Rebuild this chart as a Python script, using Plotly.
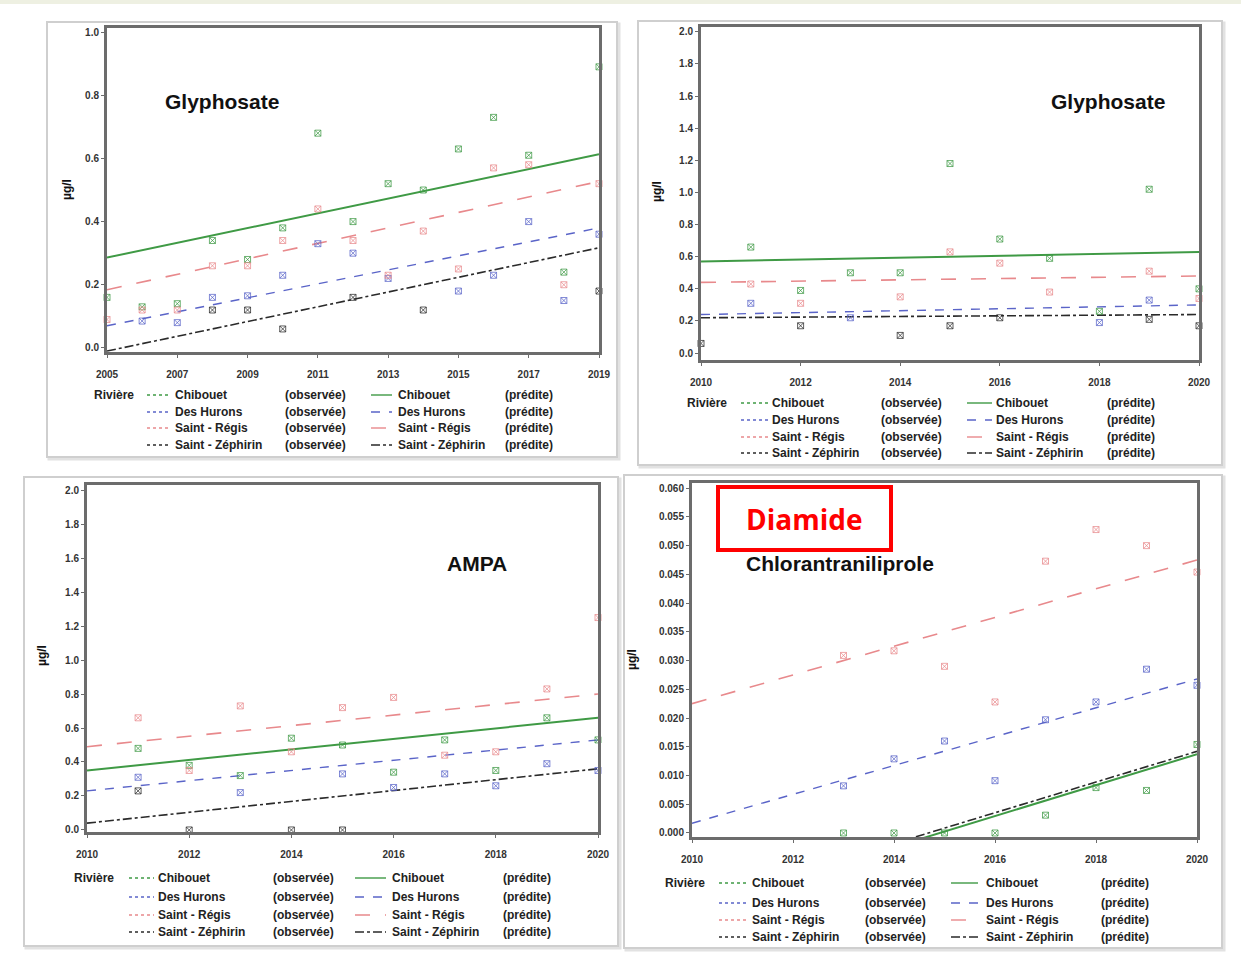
import plotly.graph_objects as go

W, H = 1241, 958

RIVERS = ["Chibouet", "Des Hurons", "Saint - Régis", "Saint - Zéphirin"]
LEGEND_LABEL = "Rivière"
OBS_TAG = "(observée)"
PRED_TAG = "(prédite)"
Y_TITLE = "µg/l"

# ---------------- Panel 1 : Glyphosate 2005-2019 ----------------
p1_title = "Glyphosate"
p1_years = list(range(2005, 2020))
p1_chibouet = [0.16, 0.13, 0.14, 0.34, 0.28, 0.38, 0.68, 0.40, 0.52, 0.50, 0.63, 0.73, 0.61, 0.24, 0.89]
p1_hurons = [None, 0.085, 0.08, 0.16, 0.165, 0.23, 0.33, 0.30, 0.22, None, 0.18, 0.23, 0.40, 0.15, 0.36]
p1_regis = [0.09, 0.12, 0.12, 0.26, 0.26, 0.34, 0.44, 0.34, 0.23, 0.37, 0.25, 0.57, 0.58, 0.20, 0.52]
p1_zephirin = [None, None, None, 0.12, 0.12, 0.06, None, 0.16, None, 0.12, None, None, None, None, 0.18]
p1_pred_years = [2005, 2019]
p1_pred_chibouet = [0.286, 0.613]
p1_pred_hurons = [0.07, 0.38]
p1_pred_regis = [0.184, 0.527]
p1_pred_zephirin = [-0.01, 0.317]
p1_xticks = [2005, 2007, 2009, 2011, 2013, 2015, 2017, 2019]
p1_yticks = [0.0, 0.2, 0.4, 0.6, 0.8, 1.0]

# ---------------- Panel 2 : Glyphosate 2010-2020 ----------------
p2_title = "Glyphosate"
p2_years = list(range(2010, 2021))
p2_chibouet = [None, 0.66, 0.39, 0.50, 0.50, 1.18, 0.71, 0.59, 0.26, 1.02, 0.40]
p2_hurons = [None, 0.31, None, 0.22, None, None, None, None, 0.19, 0.33, None]
p2_regis = [None, 0.43, 0.31, None, 0.35, 0.63, 0.56, 0.38, None, 0.51, 0.34]
p2_zephirin = [0.06, None, 0.17, None, 0.11, 0.17, 0.22, None, None, 0.21, 0.17]
p2_pred_years = [2010, 2020]
p2_pred_chibouet = [0.57, 0.63]
p2_pred_hurons = [0.24, 0.30]
p2_pred_regis = [0.44, 0.48]
p2_pred_zephirin = [0.22, 0.24]
p2_xticks = [2010, 2012, 2014, 2016, 2018, 2020]
p2_yticks = [0.0, 0.2, 0.4, 0.6, 0.8, 1.0, 1.2, 1.4, 1.6, 1.8, 2.0]

# ---------------- Panel 3 : AMPA 2010-2020 ----------------
p3_title = "AMPA"
p3_years = list(range(2011, 2021))
p3_chibouet = [0.48, 0.38, 0.32, 0.54, 0.50, 0.34, 0.53, 0.35, 0.66, 0.53]
p3_hurons = [0.31, None, 0.22, None, 0.33, 0.25, 0.33, 0.26, 0.39, 0.35]
p3_regis = [0.66, 0.35, 0.73, 0.46, 0.72, 0.78, 0.44, 0.46, 0.83, 1.25]
p3_zephirin = [0.23, 0.0, None, 0.0, 0.0, None, None, None, None, None]
p3_pred_years = [2010, 2020]
p3_pred_chibouet = [0.35, 0.66]
p3_pred_hurons = [0.23, 0.53]
p3_pred_regis = [0.49, 0.80]
p3_pred_zephirin = [0.04, 0.36]
p3_xticks = [2010, 2012, 2014, 2016, 2018, 2020]
p3_yticks = [0.0, 0.2, 0.4, 0.6, 0.8, 1.0, 1.2, 1.4, 1.6, 1.8, 2.0]

# ---------------- Panel 4 : Chlorantraniliprole 2010-2020 ----------------
p4_title = "Chlorantraniliprole"
p4_badge = "Diamide"
p4_years = list(range(2013, 2021))
p4_chibouet = [0.000, 0.000, 0.000, 0.000, 0.0031, 0.0079, 0.0074, 0.0154]
p4_hurons = [0.0082, 0.0129, 0.0160, 0.0091, 0.0197, 0.0228, 0.0285, 0.0257]
p4_regis = [0.0309, 0.0317, 0.0290, 0.0228, 0.0473, 0.0528, 0.0500, 0.0454]
p4_zephirin = [None] * 8
p4_pred_years = [2010, 2020]
p4_pred_chibouet = [-0.0132, 0.0137]
p4_pred_hurons = [0.0017, 0.0268]
p4_pred_regis = [0.0225, 0.0475]
p4_pred_zephirin = [-0.0125, 0.0142]
p4_xticks = [2010, 2012, 2014, 2016, 2018, 2020]
p4_yticks = [0.000, 0.005, 0.010, 0.015, 0.020, 0.025, 0.030, 0.035, 0.040, 0.045, 0.050, 0.055, 0.060]

# ---------------- styles ----------------
COL = ["#3f9a45", "#5a64c8", "#e8898c", "#2a2a2a"]
PRED_DASH = ["solid", "dash", "longdash", "dashdot"]
PRED_W = [2.0, 1.4, 1.6, 1.6]
FONT = "Liberation Sans"


def px(x):
    return x / W


def py(y):
    return 1 - y / H


panels = [
    dict(title=p1_title, years=p1_years,
         obs=[p1_chibouet, p1_hurons, p1_regis, p1_zephirin],
         pyears=p1_pred_years,
         pred=[p1_pred_chibouet, p1_pred_hurons, p1_pred_regis, p1_pred_zephirin],
         xticks=p1_xticks, yticks=p1_yticks, fmt=".1f",
         plot=(107, 28, 599, 352), xr=[2005, 2019], yr=[-0.013, 1.013],
         box=(47, 22, 617, 457), title_xy=(222, 101), ytitle_xy=(67, 190),
         leg=dict(label=(92, 395), s1=(147, 171), n1=173, o1=283, s2=(371, 392), n2=396, o2=503,
                  rows=[395, 412, 428, 445])),
    dict(title=p2_title, years=p2_years,
         obs=[p2_chibouet, p2_hurons, p2_regis, p2_zephirin],
         pyears=p2_pred_years,
         pred=[p2_pred_chibouet, p2_pred_hurons, p2_pred_regis, p2_pred_zephirin],
         xticks=p2_xticks, yticks=p2_yticks, fmt=".1f",
         plot=(701, 27, 1199, 360), xr=[2010, 2020], yr=[-0.043, 2.03],
         box=(638, 21, 1222, 465), title_xy=(1108, 101), ytitle_xy=(657, 192),
         leg=dict(label=(685, 403), s1=(741, 768), n1=770, o1=879, s2=(967, 992), n2=994, o2=1105,
                  rows=[403, 420, 437, 453])),
    dict(title=p3_title, years=p3_years,
         obs=[p3_chibouet, p3_hurons, p3_regis, p3_zephirin],
         pyears=p3_pred_years,
         pred=[p3_pred_chibouet, p3_pred_hurons, p3_pred_regis, p3_pred_zephirin],
         xticks=p3_xticks, yticks=p3_yticks, fmt=".1f",
         plot=(87, 485, 598, 832), xr=[2010, 2020], yr=[-0.012, 2.03],
         box=(24, 477, 618, 946), title_xy=(477, 563), ytitle_xy=(42, 656),
         leg=dict(label=(72, 878), s1=(129, 154), n1=156, o1=271, s2=(355, 386), n2=390, o2=501,
                  rows=[878, 897, 915, 932])),
    dict(title=p4_title, years=p4_years,
         obs=[p4_chibouet, p4_hurons, p4_regis, p4_zephirin],
         pyears=p4_pred_years,
         pred=[p4_pred_chibouet, p4_pred_hurons, p4_pred_regis, p4_pred_zephirin],
         xticks=p4_xticks, yticks=p4_yticks, fmt=".3f",
         plot=(692, 483, 1197, 837), xr=[2010, 2020], yr=[-0.0007, 0.0609],
         box=(624, 475, 1222, 948), title_xy=(840, 563), ytitle_xy=(632, 660),
         leg=dict(label=(663, 883), s1=(719, 748), n1=750, o1=863, s2=(951, 978), n2=984, o2=1099,
                  rows=[883, 903, 920, 937])),
]

fig = go.Figure()
shapes = []
annotations = []

# faint strip at top of the page
shapes.append(dict(type="rect", xref="paper", yref="paper", x0=0, x1=1, y0=py(4), y1=1,
                   line=dict(width=0), fillcolor="#eef0e2", layer="below"))

for i, p in enumerate(panels):
    k = "" if i == 0 else str(i + 1)
    xa, ya = "x" + k, "y" + k
    x0, y0, x1, y1 = p["plot"]
    # outer panel box
    bx0, by0, bx1, by1 = p["box"]
    shapes.append(dict(type="rect", xref="paper", yref="paper",
                       x0=px(bx0 + 2), x1=px(bx1 + 2), y0=py(by1 + 2), y1=py(by0 + 2),
                       line=dict(color="#e2e2e2", width=3), fillcolor="rgba(0,0,0,0)", layer="below"))
    shapes.append(dict(type="rect", xref="paper", yref="paper",
                       x0=px(bx0), x1=px(bx1), y0=py(by1), y1=py(by0),
                       line=dict(color="#cfcfcf", width=2), fillcolor="white", layer="below"))

    axis_common = dict(showgrid=False, zeroline=False, showline=True, mirror=True,
                       linecolor="#6c6c6c", linewidth=3, ticks="outside", ticklen=3,
                       tickcolor="#6c6c6c", automargin=False,
                       tickfont=dict(family=FONT, size=10, color="#333", weight="bold"))
    fig.update_layout({
        "xaxis" + k: dict(domain=[px(x0), px(x1)], range=p["xr"], anchor=ya,
                          tickvals=p["xticks"], ticktext=[str(t) for t in p["xticks"]],
                          ticklabelstandoff=8, **axis_common),
        "yaxis" + k: dict(domain=[py(y1), py(y0)], range=p["yr"], anchor=xa,
                          tickvals=p["yticks"], tickformat=p["fmt"], **axis_common),
    })

    # predicted trend lines
    for r in range(4):
        fig.add_trace(go.Scatter(x=p["pyears"], y=p["pred"][r], mode="lines", xaxis=xa, yaxis=ya,
                                 line=dict(color=COL[r], width=PRED_W[r], dash=PRED_DASH[r]),
                                 showlegend=False, hoverinfo="skip"))
    # observed points
    for r in range(4):
        fig.add_trace(go.Scatter(x=p["years"], y=p["obs"][r], mode="markers", xaxis=xa, yaxis=ya,
                                 marker=dict(symbol="square-x-open", size=6, color=COL[r],
                                             opacity=0.75, line=dict(width=1, color=COL[r])),
                                 cliponaxis=False, showlegend=False))

    tx, ty = p["title_xy"]
    annotations.append(dict(xref="paper", yref="paper", x=px(tx), y=py(ty), text=p["title"],
                            showarrow=False, xanchor="center", yanchor="middle",
                            font=dict(family=FONT, size=21, color="#111", weight="bold")))
    yx, yy = p["ytitle_xy"]
    annotations.append(dict(xref="paper", yref="paper", x=px(yx), y=py(yy), text=Y_TITLE,
                            showarrow=False, textangle=-90, xanchor="center", yanchor="middle",
                            font=dict(family=FONT, size=12, color="#111", weight="bold")))

    # legend block
    L = p["leg"]
    lf = dict(family=FONT, size=12, color="#222", weight="bold")
    annotations.append(dict(xref="paper", yref="paper", x=px(L["label"][0]), y=py(L["label"][1]),
                            text=LEGEND_LABEL, showarrow=False, xanchor="left", yanchor="middle",
                            font=lf))
    for r, ry in enumerate(L["rows"]):
        shapes.append(dict(type="line", xref="paper", yref="paper",
                           x0=px(L["s1"][0]), x1=px(L["s1"][1]), y0=py(ry), y1=py(ry),
                           line=dict(color=COL[r], width=1.6, dash="dot")))
        shapes.append(dict(type="line", xref="paper", yref="paper",
                           x0=px(L["s2"][0]), x1=px(L["s2"][1]), y0=py(ry), y1=py(ry),
                           line=dict(color=COL[r], width=1.4, dash=PRED_DASH[r] if r else "solid")))
        for xx, txt in [(L["n1"], RIVERS[r]), (L["o1"], OBS_TAG), (L["n2"], RIVERS[r]), (L["o2"], PRED_TAG)]:
            annotations.append(dict(xref="paper", yref="paper", x=px(xx), y=py(ry), text=txt,
                                    showarrow=False, xanchor="left", yanchor="middle", font=lf))

# red "Diamide" badge
shapes.append(dict(type="rect", xref="paper", yref="paper", x0=px(718), x1=px(891),
                   y0=py(550), y1=py(487), line=dict(color="#ff0000", width=4), fillcolor="white"))
annotations.append(dict(xref="paper", yref="paper", x=px(804), y=py(519), text=p4_badge,
                        showarrow=False, xanchor="center", yanchor="middle",
                        font=dict(family="Open Sans", size=28, color="#ff0000", weight="bold")))

fig.update_layout(width=W, height=H, margin=dict(l=0, r=0, t=0, b=0),
                  paper_bgcolor="white", plot_bgcolor="white", showlegend=False,
                  shapes=shapes, annotations=annotations)

fig.write_html("out.html")
